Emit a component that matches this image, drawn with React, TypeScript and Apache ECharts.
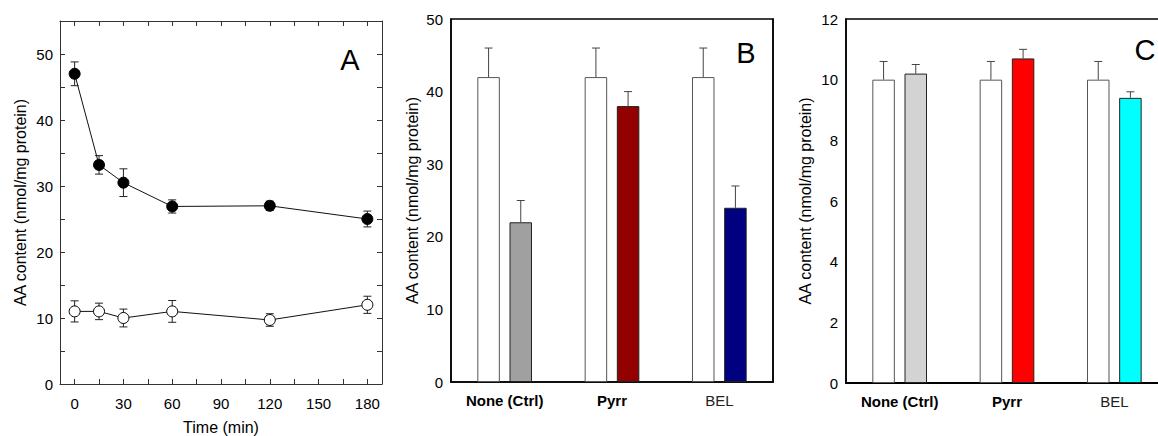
import React, { useEffect, useRef } from "react";
import * as echarts from "echarts";

// Panel A: time course
const timePoints = [0, 15, 30, 60, 120, 180];
const filledMean = [47.0, 33.2, 30.5, 26.9, 27.0, 25.0];
const filledErr = [1.8, 1.4, 2.1, 1.0, 0.7, 1.2];
const openMean = [11.0, 11.0, 10.0, 11.0, 9.7, 12.0];
const openErr = [1.6, 1.25, 1.35, 1.65, 0.95, 1.3];
const timeTickLabels = [0, 30, 60, 90, 120, 150, 180];
const timeTicks = [0, 15, 30, 45, 60, 75, 90, 105, 120, 135, 150, 165, 180];

// Panels B and C: bar groups
const categories = ["None (Ctrl)", "Pyrr", "BEL"];
const bWhite = [42, 42, 42];
const bWhiteErr = [4, 4, 4];
const bTreated = [22, 38, 24];
const bTreatedErr = [3, 2, 3];
const bColors = ["#a0a0a0", "#930000", "#000080"];

const cWhite = [10, 10, 10];
const cWhiteErr = [0.6, 0.6, 0.6];
const cTreated = [10.2, 10.7, 9.4];
const cTreatedErr = [0.3, 0.3, 0.2];
const cColors = ["#d3d3d3", "#ff0000", "#00ffff"];

const FONT = "Liberation Sans, Arial, sans-serif";
const BAR_W = 22.5;
const BAR_GAP = 0.43;
const CAP = 4;

function xyErrorSeries(xIdx: number, yIdx: number, xs: number[], m: number[], e: number[]) {
  return {
    type: "custom",
    xAxisIndex: xIdx,
    yAxisIndex: yIdx,
    z: 1,
    silent: true,
    data: xs.map((x, i) => [x, m[i] - e[i], m[i] + e[i]]),
    renderItem: (params: any, api: any) => {
      const lo = api.coord([api.value(0), api.value(1)]);
      const hi = api.coord([api.value(0), api.value(2)]);
      const st = { stroke: "#222", lineWidth: 1 };
      return {
        type: "group",
        children: [
          { type: "line", shape: { x1: lo[0], y1: lo[1], x2: hi[0], y2: hi[1] }, style: st },
          { type: "line", shape: { x1: lo[0] - CAP, y1: lo[1], x2: lo[0] + CAP, y2: lo[1] }, style: st },
          { type: "line", shape: { x1: hi[0] - CAP, y1: hi[1], x2: hi[0] + CAP, y2: hi[1] }, style: st },
        ],
      };
    },
  };
}

function barErrorSeries(xIdx: number, yIdx: number, m: number[], e: number[], side: number) {
  return {
    type: "custom",
    xAxisIndex: xIdx,
    yAxisIndex: yIdx,
    z: 3,
    silent: true,
    data: m.map((v, i) => [i, v, v + e[i]]),
    renderItem: (params: any, api: any) => {
      const base = api.coord([api.value(0), api.value(1)]);
      const top = api.coord([api.value(0), api.value(2)]);
      const x = base[0] + side * (BAR_W * (1 + BAR_GAP)) / 2;
      const st = { stroke: "#444", lineWidth: 1 };
      return {
        type: "group",
        children: [
          { type: "line", shape: { x1: x, y1: base[1], x2: x, y2: top[1] }, style: st },
          { type: "line", shape: { x1: x - CAP, y1: top[1], x2: x + CAP, y2: top[1] }, style: st },
        ],
      };
    },
  };
}

export default function App() {
  const ref = useRef<HTMLDivElement>(null);
  useEffect(() => {
    if (!ref.current) return;
    const chart = echarts.init(ref.current, null, { renderer: "svg" });
    const tickLabel = { fontSize: 15, color: "#000", fontFamily: FONT };
    const nameStyle = { fontSize: 16, color: "#000", fontFamily: FONT };
    const catLabel = {
      fontFamily: FONT,
      margin: 11,
      formatter: (v: string) => (v === "BEL" ? `{n|${v}}` : `{b|${v}}`),
      rich: {
        b: { fontSize: 15, fontWeight: "bold", color: "#000", fontFamily: FONT },
        n: { fontSize: 15, color: "#222", fontFamily: FONT },
      },
    };
    const yName = "AA content (nmol/mg protein)";

    const option: any = {
      animation: false,
      textStyle: { fontFamily: FONT },
      grid: [
        { left: 60, top: 21, width: 322, height: 363, show: false, outerBoundsMode: "none", containLabel: false },
        { left: 451, top: 19, width: 322, height: 363, show: true, borderColor: "#000", borderWidth: 1.5, backgroundColor: "transparent", outerBoundsMode: "none", containLabel: false },
        { left: 846, top: 19, width: 322, height: 364, show: true, borderColor: "#000", borderWidth: 1.5, backgroundColor: "transparent", outerBoundsMode: "none", containLabel: false },
      ],
      xAxis: [
        {
          gridIndex: 0, type: "value", min: -9, max: 189, position: "bottom",
          axisLine: { onZero: false, lineStyle: { color: "#333", width: 1 } },
          axisTick: { inside: true, length: 5, customValues: timeTicks, lineStyle: { color: "#333" } },
          axisLabel: { ...tickLabel, margin: 12, customValues: timeTickLabels },
          splitLine: { show: false },
          name: "Time (min)", nameLocation: "middle", nameGap: 35, nameTextStyle: nameStyle,
        },
        {
          gridIndex: 0, type: "value", min: -9, max: 189, position: "top",
          axisLine: { onZero: false, lineStyle: { color: "#333", width: 1 } },
          axisTick: { inside: true, length: 5, customValues: timeTicks, lineStyle: { color: "#333" } },
          axisLabel: { show: false },
          splitLine: { show: false },
        },
        {
          gridIndex: 1, type: "category", data: categories,
          axisLine: { lineStyle: { color: "#000", width: 1.5 } },
          axisTick: { show: false },
          axisLabel: catLabel,
        },
        {
          gridIndex: 2, type: "category", data: categories,
          axisLine: { lineStyle: { color: "#000", width: 2 } },
          axisTick: { show: false },
          axisLabel: catLabel,
        },
      ],
      yAxis: [
        {
          gridIndex: 0, type: "value", min: 0, max: 55, interval: 5, position: "left",
          axisLine: { show: true, onZero: false, lineStyle: { color: "#333", width: 1 } },
          axisTick: { inside: true, length: 5, lineStyle: { color: "#333" } },
          axisLabel: { ...tickLabel, margin: 7, showMaxLabel: false, formatter: (v: number) => (v % 10 === 0 ? String(v) : "") },
          splitLine: { show: false },
          name: yName, nameLocation: "middle", nameGap: 32, nameTextStyle: nameStyle,
        },
        {
          gridIndex: 0, type: "value", min: 0, max: 55, interval: 5, position: "right",
          axisLine: { show: true, onZero: false, lineStyle: { color: "#333", width: 1 } },
          axisTick: { inside: true, length: 5, lineStyle: { color: "#333" } },
          axisLabel: { show: false },
          splitLine: { show: false },
        },
        {
          gridIndex: 1, type: "value", min: 0, max: 50, interval: 10, position: "left",
          axisLine: { show: true, lineStyle: { color: "#000", width: 1.5 } },
          axisTick: { show: false },
          axisLabel: { ...tickLabel, margin: 8 },
          splitLine: { show: false },
          name: yName, nameLocation: "middle", nameGap: 31, nameTextStyle: nameStyle,
        },
        {
          gridIndex: 1, type: "value", min: 0, max: 50, interval: 10, position: "right",
          axisLine: { show: true, lineStyle: { color: "#000", width: 1.5 } },
          axisTick: { inside: true, length: 6, lineStyle: { color: "#000" } },
          axisLabel: { show: false },
          splitLine: { show: false },
        },
        {
          gridIndex: 2, type: "value", min: 0, max: 12, interval: 2, position: "left",
          axisLine: { show: true, lineStyle: { color: "#000", width: 1.5 } },
          axisTick: { show: false },
          axisLabel: { ...tickLabel, margin: 8 },
          splitLine: { show: false },
          name: yName, nameLocation: "middle", nameGap: 33, nameTextStyle: nameStyle,
        },
        {
          gridIndex: 2, type: "value", min: 0, max: 12, interval: 2, position: "right",
          axisLine: { show: true, lineStyle: { color: "#000", width: 1.5 } },
          axisTick: { inside: true, length: 6, lineStyle: { color: "#000" } },
          axisLabel: { show: false },
          splitLine: { show: false },
        },
      ],
      series: [
        xyErrorSeries(0, 0, timePoints, filledMean, filledErr),
        xyErrorSeries(0, 0, timePoints, openMean, openErr),
        {
          type: "line", xAxisIndex: 0, yAxisIndex: 0, z: 4,
          data: timePoints.map((t, i) => [t, filledMean[i]]),
          symbol: "circle", symbolSize: 11,
          lineStyle: { color: "#111", width: 1 },
          itemStyle: { color: "#000", borderColor: "#000", borderWidth: 1 },
        },
        {
          type: "line", xAxisIndex: 0, yAxisIndex: 0, z: 4,
          data: timePoints.map((t, i) => [t, openMean[i]]),
          symbol: "circle", symbolSize: 11,
          lineStyle: { color: "#111", width: 1 },
          itemStyle: { color: "#fff", borderColor: "#000", borderWidth: 1 },
        },
        {
          type: "bar", xAxisIndex: 2, yAxisIndex: 2, barWidth: BAR_W, barGap: BAR_GAP * 100 + "%", z: 2,
          itemStyle: { color: "#fff", borderColor: "#555", borderWidth: 1 },
          data: bWhite,
        },
        {
          type: "bar", xAxisIndex: 2, yAxisIndex: 2, barWidth: BAR_W, barGap: BAR_GAP * 100 + "%", z: 2,
          itemStyle: { borderColor: "#222", borderWidth: 1 },
          data: bTreated.map((v, i) => ({ value: v, itemStyle: { color: bColors[i] } })),
        },
        barErrorSeries(2, 2, bWhite, bWhiteErr, -1),
        barErrorSeries(2, 2, bTreated, bTreatedErr, 1),
        {
          type: "bar", xAxisIndex: 3, yAxisIndex: 4, barWidth: BAR_W, barGap: BAR_GAP * 100 + "%", z: 2,
          itemStyle: { color: "#fff", borderColor: "#555", borderWidth: 1 },
          data: cWhite,
        },
        {
          type: "bar", xAxisIndex: 3, yAxisIndex: 4, barWidth: BAR_W, barGap: BAR_GAP * 100 + "%", z: 2,
          itemStyle: { borderColor: "#222", borderWidth: 1 },
          data: cTreated.map((v, i) => ({ value: v, itemStyle: { color: cColors[i] } })),
        },
        barErrorSeries(3, 4, cWhite, cWhiteErr, -1),
        barErrorSeries(3, 4, cTreated, cTreatedErr, 1),
      ],
      graphic: [
        { type: "text", x: 350, y: 60, style: { text: "A", fontSize: 29, fontFamily: FONT, fill: "#000", textAlign: "center", textVerticalAlign: "middle" } },
        { type: "text", x: 746, y: 53, style: { text: "B", fontSize: 29, fontFamily: FONT, fill: "#000", textAlign: "center", textVerticalAlign: "middle" } },
        { type: "text", x: 1145, y: 50, style: { text: "C", fontSize: 29, fontFamily: FONT, fill: "#000", textAlign: "center", textVerticalAlign: "middle" } },
      ],
    };
    chart.setOption(option);
    return () => chart.dispose();
  }, []);
  return <div ref={ref} style={{ position: "fixed", left: 0, top: 0, width: 1158, height: 436, background: "#fff" }} />;
}
